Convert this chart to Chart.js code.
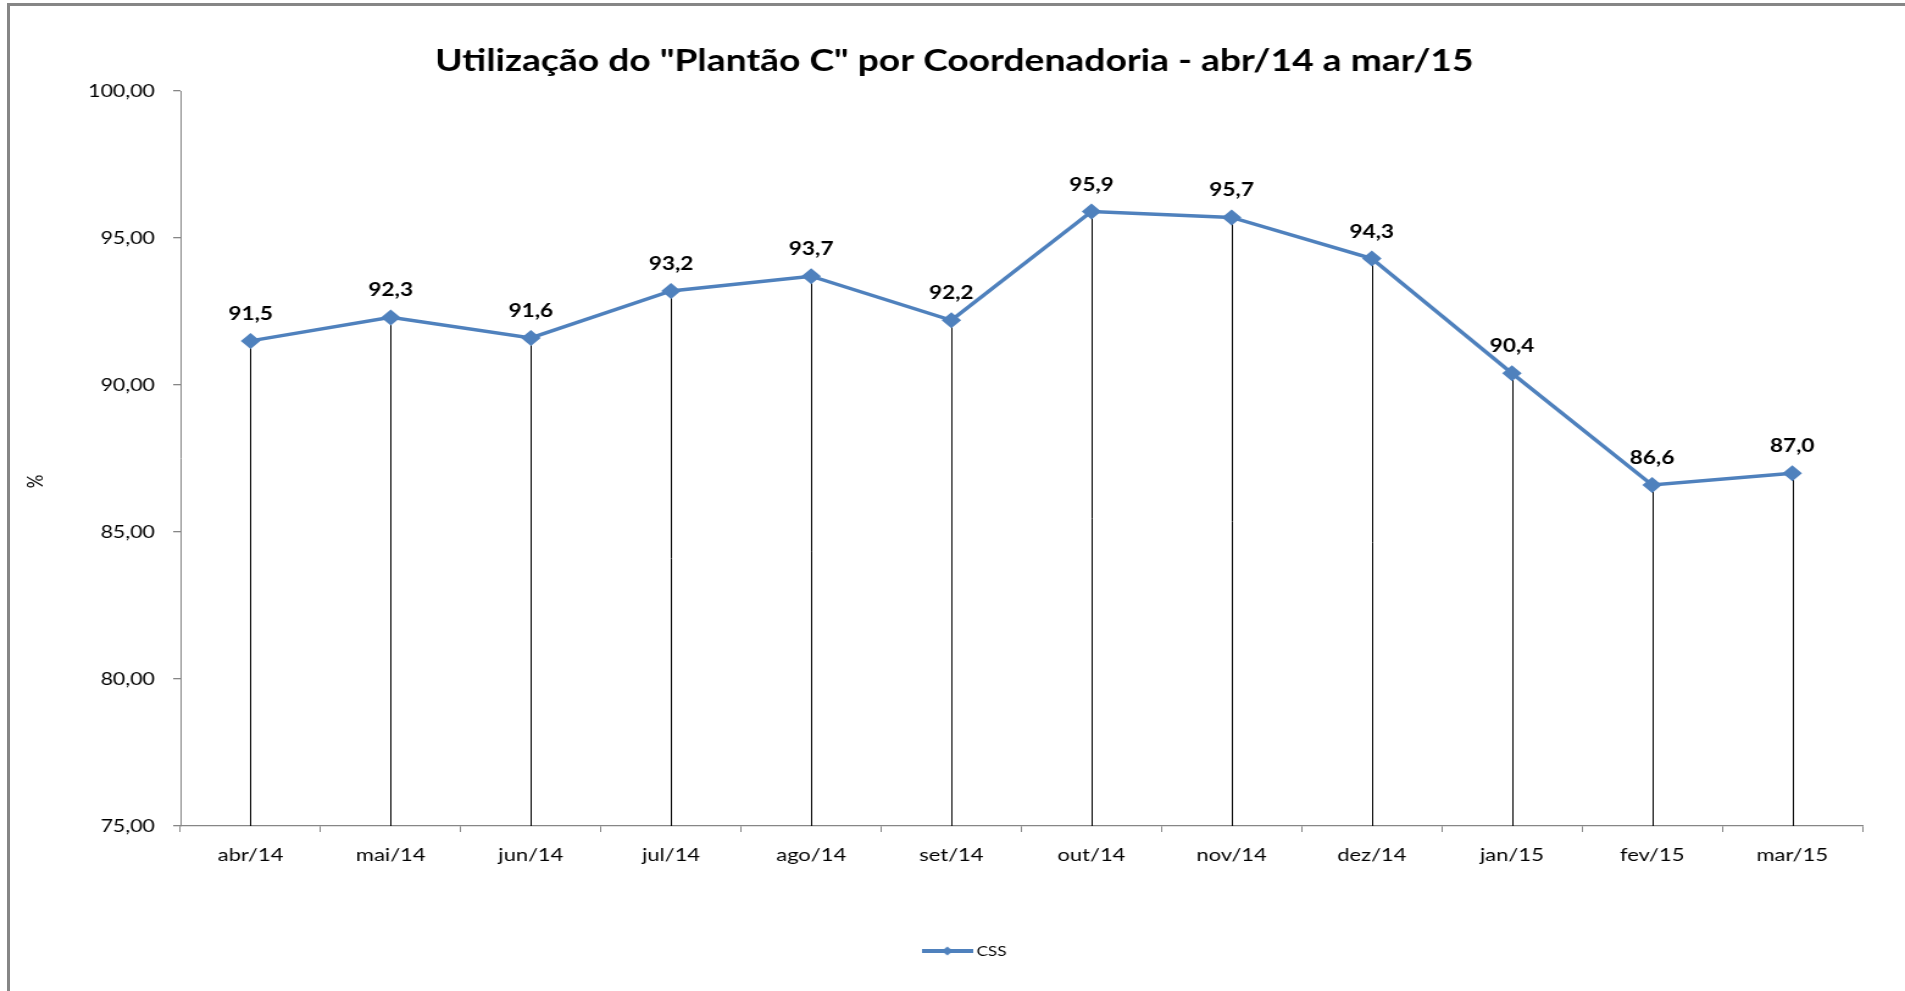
<!DOCTYPE html>
<html>
<head>
<meta charset="utf-8">
<script src="https://cdn.jsdelivr.net/npm/chart.js@4"></script>
<style>
  html, body { margin: 0; padding: 0; background: #fff; overflow: hidden; width: 1905px; height: 991px; }
  #wrap { position: absolute; left: 0; top: 0; width: 1562px; height: 991px;
          transform: scaleX(1.21959); transform-origin: 0 0; }
  #frame { position: absolute; left: 7px; top: 3px; width: 1905px; height: 1000px;
           border-left: 3px solid #868686; border-top: 3px solid #868686; pointer-events: none; }
</style>
</head>
<body>
<div id="wrap"><canvas id="c" width="1562" height="991"></canvas></div>
<div id="frame"></div>
<script>
const categories = ['abr/14','mai/14','jun/14','jul/14','ago/14','set/14','out/14','nov/14','dez/14','jan/15','fev/15','mar/15'];
const cssValues = [91.5, 92.3, 91.6, 93.2, 93.7, 92.2, 95.9, 95.7, 94.3, 90.4, 86.6, 87.0];
const yTickValues = [75, 80, 85, 90, 95, 100];
const seriesName = 'CSS';
const yAxisTitle = '%';
const chartTitle = 'Utilização do "Plantão C" por Coordenadoria - abr/14 a mar/15';

const FONT = 'Lato, "Open Sans", sans-serif';
const BLUE = '#4F81BD';

function fmt(v, d) { return v.toFixed(d).replace('.', ','); }

// legend icon: line with a diamond
const icon = document.createElement('canvas');
icon.width = 42; icon.height = 12;
(function () {
  const g = icon.getContext('2d');
  g.strokeStyle = BLUE; g.lineWidth = 4;
  g.beginPath(); g.moveTo(0, 6); g.lineTo(42, 6); g.stroke();
  g.fillStyle = BLUE;
  g.beginPath(); g.moveTo(21, 1.5); g.lineTo(25.5, 6); g.lineTo(21, 10.5); g.lineTo(16.5, 6); g.closePath(); g.fill();
})();

const dropLines = {
  id: 'dropLines',
  beforeDatasetsDraw(chart) {
    const ctx = chart.ctx;
    const meta = chart.getDatasetMeta(0);
    const bottom = chart.chartArea.bottom;
    ctx.save();
    ctx.strokeStyle = '#000';
    ctx.lineWidth = 1;
    meta.data.forEach(pt => {
      const x = Math.round(pt.x) + 0.5;
      ctx.beginPath(); ctx.moveTo(x, pt.y); ctx.lineTo(x, bottom); ctx.stroke();
    });
    ctx.restore();
  }
};

const dataLabels = {
  id: 'dataLabels',
  afterDatasetsDraw(chart) {
    const ctx = chart.ctx;
    const meta = chart.getDatasetMeta(0);
    const data = chart.data.datasets[0].data;
    ctx.save();
    ctx.fillStyle = '#000';
    ctx.font = 'bold 18.5px ' + FONT;
    ctx.textAlign = 'center';
    ctx.textBaseline = 'middle';
    meta.data.forEach((pt, i) => {
      ctx.fillText(fmt(data[i], 1), pt.x, pt.y - 27);
    });
    ctx.restore();
  }
};

const texts = {
  id: 'texts',
  afterDraw(chart) {
    const ctx = chart.ctx;
    const ca = chart.chartArea;
    ctx.save();
    // chart title
    ctx.fillStyle = '#000';
    ctx.font = 'bold 30.5px ' + FONT;
    ctx.textAlign = 'center';
    ctx.textBaseline = 'middle';
    ctx.fillText(chartTitle, (ca.left + ca.right) / 2 - 55, ca.top - 30);
    // y axis title
    ctx.translate(29.5, (ca.top + ca.bottom) / 2 + 23);
    ctx.rotate(-Math.PI / 2);
    ctx.font = '17px ' + FONT;
    ctx.fillText(yAxisTitle, 0, 0);
    ctx.restore();
  }
};

new Chart(document.getElementById('c'), {
  type: 'line',
  data: {
    labels: categories,
    datasets: [{
      label: seriesName,
      data: cssValues,
      borderColor: BLUE,
      backgroundColor: BLUE,
      borderWidth: 3.5,
      pointStyle: 'rectRot',
      pointRadius: 8,
      pointHoverRadius: 8,
      pointBackgroundColor: BLUE,
      pointBorderColor: BLUE,
      pointBorderWidth: 0,
      tension: 0
    }]
  },
  options: {
    responsive: false,
    animation: false,
    devicePixelRatio: 1,
    layout: { padding: { left: 58, right: 35, top: 91, bottom: 23 } },
    plugins: {
      title: { display: false },
      legend: {
        display: true,
        position: 'bottom',
        labels: {
          color: '#000',
          font: { family: FONT, size: 14 },
          usePointStyle: true,
          pointStyleWidth: 34,
          padding: 10,
          generateLabels(chart) {
            return [{ text: seriesName, pointStyle: icon, fillStyle: BLUE, strokeStyle: BLUE, lineWidth: 0, hidden: false, datasetIndex: 0 }];
          }
        }
      },
      tooltip: { enabled: false }
    },
    scales: {
      x: {
        offset: true,
        afterFit(s) { s.height = 108; },
        grid: { display: true, drawOnChartArea: false, offset: true, color: '#868686', tickLength: 6, lineWidth: 1 },
        border: { display: true, color: '#868686', width: 1.3 },
        ticks: { color: '#000', font: { family: FONT, size: 18 }, padding: 12, maxRotation: 0 }
      },
      y: {
        min: 75, max: 100,
        afterFit(s) { s.width = 90; },
        afterBuildTicks(s) { s.ticks = yTickValues.map(v => ({ value: v })); },
        grid: { display: true, drawOnChartArea: false, color: '#868686', tickLength: 6, lineWidth: 1.3 },
        border: { display: true, color: '#868686', width: 1 },
        ticks: { color: '#000', font: { family: FONT, size: 17.5 }, padding: 15, callback: v => fmt(v, 2) }
      }
    }
  },
  plugins: [dropLines, dataLabels, texts]
});
</script>
</body>
</html>
